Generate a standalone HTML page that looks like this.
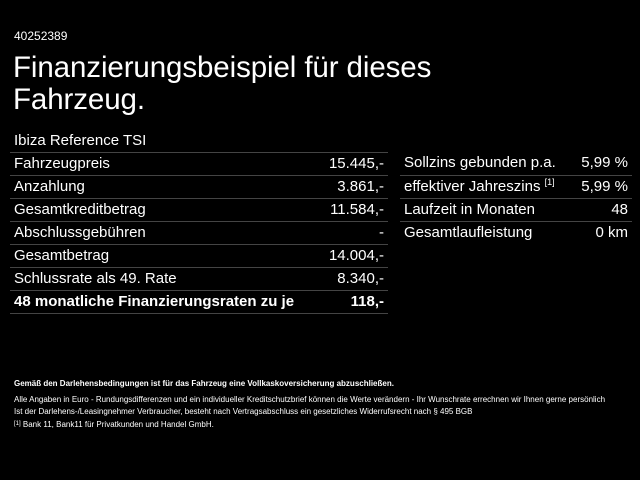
<!DOCTYPE html>
<html><head><style>
body{margin:0;width:640px;height:480px;background:#000;color:#fff;font-family:"Liberation Sans",sans-serif;position:relative;overflow:hidden}
.a{position:absolute}
.t{position:absolute;left:10px;width:378px}
.r{position:absolute;left:400px;width:232px}
.row{height:23px;border-top:1px solid #444;font-size:15px;line-height:22px;display:flex;justify-content:space-between;padding:0 4px;box-sizing:border-box}
.row.b{font-weight:bold;border-bottom:1px solid #444;height:24px}
.hd{height:23px;font-size:15px;line-height:24px;padding:0 4px}
sup{font-size:9px;vertical-align:top;line-height:0;position:relative;top:6px}
.s{font-size:8px;position:absolute;left:14px;white-space:nowrap}
</style></head><body>
<div class="a" style="left:14px;top:29px;font-size:12px">40252389</div>
<div class="a" style="left:13px;top:52px;font-size:29.5px;line-height:32px;letter-spacing:-0.1px">Finanzierungsbeispiel für dieses<br>Fahrzeug.</div>
<div class="t" style="top:129px">
<div class="hd">Ibiza Reference TSI</div>
<div class="row"><span>Fahrzeugpreis</span><span>15.445,-</span></div>
<div class="row"><span>Anzahlung</span><span>3.861,-</span></div>
<div class="row"><span>Gesamtkreditbetrag</span><span>11.584,-</span></div>
<div class="row"><span>Abschlussgebühren</span><span>-</span></div>
<div class="row"><span>Gesamtbetrag</span><span>14.004,-</span></div>
<div class="row"><span>Schlussrate als 49. Rate</span><span>8.340,-</span></div>
<div class="row b"><span>48 monatliche Finanzierungsraten zu je</span><span>118,-</span></div>
</div>
<div class="r" style="top:152px">
<div class="row" style="border-top:none"><span>Sollzins gebunden p.a.</span><span>5,99 %</span></div>
<div class="row"><span>effektiver Jahreszins <sup>[1]</sup></span><span>5,99 %</span></div>
<div class="row"><span>Laufzeit in Monaten</span><span>48</span></div>
<div class="row"><span>Gesamtlaufleistung</span><span>0 km</span></div>
</div>
<div class="s" style="top:379px;font-weight:bold">Gemäß den Darlehensbedingungen ist für das Fahrzeug eine Vollkaskoversicherung abzuschließen.</div>
<div class="s" style="top:395px">Alle Angaben in Euro - Rundungsdifferenzen und ein individueller Kreditschutzbrief können die Werte verändern - Ihr Wunschrate errechnen wir Ihnen gerne persönlich</div>
<div class="s" style="top:407px">Ist der Darlehens-/Leasingnehmer Verbraucher, besteht nach Vertragsabschluss ein gesetzliches Widerrufsrecht nach § 495 BGB</div>
<div class="s" style="top:420px"><span style="font-size:6px;position:relative;top:-2px">[1]</span> Bank 11, Bank11 für Privatkunden und Handel GmbH.</div>
</body></html>
